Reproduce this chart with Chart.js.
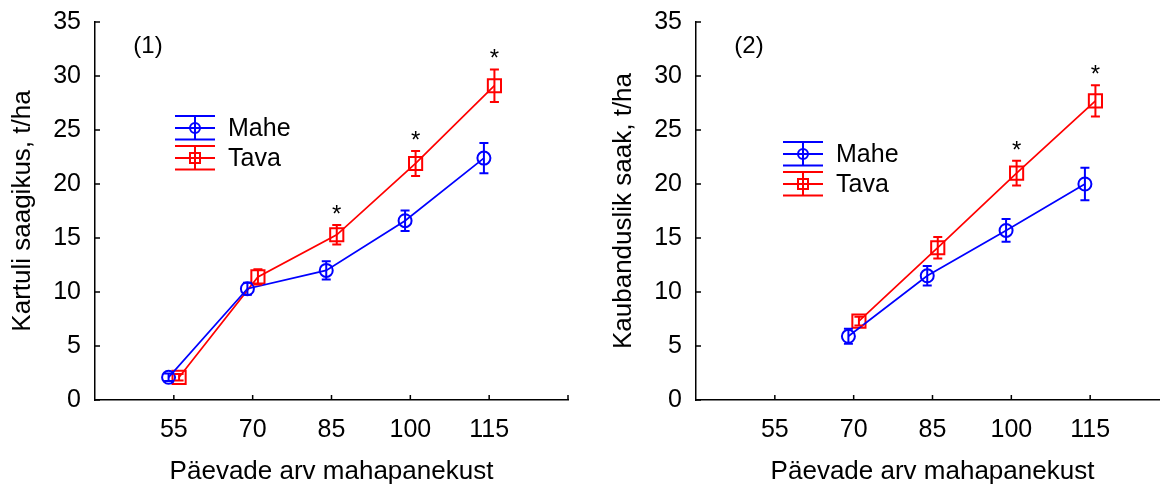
<!DOCTYPE html>
<html>
<head>
<meta charset="utf-8">
<script src="https://cdn.jsdelivr.net/npm/chart.js@4/dist/chart.umd.min.js"></script>
<style>
  html, body { margin: 0; padding: 0; background: #fff; overflow: hidden; }
  #wrap { position: relative; width: 1160px; height: 487px; overflow: hidden; }
  .box { position: absolute; top: 0; width: 600px; height: 487px; }
</style>
</head>
<body>
<div id="wrap">
  <div class="box" style="left:0"><canvas id="chart1"></canvas></div>
  <div class="box" style="left:601px"><canvas id="chart2"></canvas></div>
</div>
<script>
// shared axis ticks
const xTicks = [55, 70, 85, 100, 115];
const yStep = 5;
const seriesNames = ['Mahe', 'Tava'];
const xTitle = 'Päevade arv mahapanekust';

// (1) Kartuli saagikus
const days1 = [55, 70, 85, 100, 115];
const mahe1 = [2.1, 10.3, 12.0, 16.6, 22.4];
const maheErr1 = [0.35, 0.55, 0.85, 0.95, 1.4];
const tava1 = [2.1, 11.4, 15.3, 21.9, 29.1];
const tavaErr1 = [0.3, 0.7, 0.9, 1.15, 1.5];
const signif1 = [false, false, true, true, true];

// (2) Kaubanduslik saak
const days2 = [70, 85, 100, 115];
const mahe2 = [5.9, 11.5, 15.7, 20.0];
const maheErr2 = [0.7, 0.9, 1.05, 1.5];
const tava2 = [7.3, 14.1, 21.0, 27.7];
const tavaErr2 = [0.4, 1.0, 1.15, 1.45];
const signif2 = [false, false, true, true];

const FONT = '"Liberation Sans", Arial, sans-serif';
Chart.defaults.font.family = FONT;
Chart.defaults.color = '#000';

// error bars, inward ticks, asterisks, legend and panel tag
const extras = {
    id: 'extras',
    afterDatasetsDraw(chart, args, opts) {
        const { ctx, chartArea: a } = chart;
        const x = chart.scales.x, y = chart.scales.y;
        ctx.save();

        // tick marks pointing into the plot
        ctx.strokeStyle = '#000';
        ctx.lineWidth = 1.5;
        ctx.beginPath();
        for (let v = y.min; v <= y.max; v += yStep) {
            const py = y.getPixelForValue(v);
            ctx.moveTo(a.left, py);
            ctx.lineTo(a.left + 5, py);
        }
        [...xTicks, x.max].forEach(v => {
            const px = x.getPixelForValue(v);
            ctx.moveTo(px, a.bottom);
            ctx.lineTo(px, a.bottom - 5);
        });
        ctx.stroke();

        // error bars
        chart.data.datasets.forEach(ds => {
            ctx.strokeStyle = ds.borderColor;
            ctx.lineWidth = 2;
            ctx.beginPath();
            ds.data.forEach((p, i) => {
                const px = x.getPixelForValue(p.x);
                const t = y.getPixelForValue(p.y + ds.errors[i]);
                const b = y.getPixelForValue(p.y - ds.errors[i]);
                ctx.moveTo(px, t); ctx.lineTo(px, b);
                ctx.moveTo(px - 4.5, t); ctx.lineTo(px + 4.5, t);
                ctx.moveTo(px - 4.5, b); ctx.lineTo(px + 4.5, b);
            });
            ctx.stroke();
        });

        // significance stars above the Tava bars
        const tv = chart.data.datasets[1];
        ctx.fillStyle = '#000';
        ctx.font = opts.starSize + 'px ' + FONT;
        ctx.textAlign = 'center';
        ctx.textBaseline = 'alphabetic';
        opts.signif.forEach((s, i) => {
            if (!s) return;
            const p = tv.data[i];
            const px = x.getPixelForValue(p.x);
            const py = y.getPixelForValue(p.y + tv.errors[i]) - 17;
            ctx.fillText('*', px, py + 0.58 * opts.starSize);
        });

        // panel tag (1) / (2)
        ctx.font = opts.tagSize + 'px ' + FONT;
        ctx.textBaseline = 'middle';
        ctx.fillText(opts.tag, opts.tagX, opts.tagY);

        // legend with error-bar symbols
        ctx.textAlign = 'left';
        ctx.font = opts.legSize + 'px ' + FONT;
        chart.data.datasets.forEach((ds, i) => {
            const x0 = opts.legX, w = 40, cx = x0 + w / 2;
            const cy = opts.legY + i * 30;
            ctx.strokeStyle = ds.borderColor;
            ctx.lineWidth = 2;
            ctx.beginPath();
            [-12, 0, 11.5].forEach(d => { ctx.moveTo(x0, cy + d); ctx.lineTo(x0 + w, cy + d); });
            ctx.moveTo(cx, cy - 12); ctx.lineTo(cx, cy + 11.5);
            ctx.stroke();
            ctx.beginPath();
            if (ds.pointStyle === 'circle') ctx.arc(cx, cy, 5, 0, Math.PI * 2);
            else ctx.rect(cx - 5, cy - 5, 10, 10);
            ctx.stroke();
            ctx.fillStyle = '#000';
            ctx.fillText(ds.label, x0 + 53, cy + 1);
        });

        ctx.restore();
    }
};

function points(days, vals, dodge) {
    return days.map((d, i) => ({ x: d + dodge, y: vals[i] }));
}

function makeChart(id, days, mahe, maheErr, tava, tavaErr, signif, yTitle, tag, legX, legY) {
    const ctx = document.getElementById(id).getContext('2d');
    return new Chart(ctx, {
        type: 'scatter',
        data: {
            datasets: [{
                label: seriesNames[0],
                data: points(days, mahe, -1),
                errors: maheErr,
                showLine: true,
                borderColor: '#0000ff',
                borderWidth: 1.7,
                pointStyle: 'circle',
                pointRadius: 6.5,
                pointBorderWidth: 2,
                pointBackgroundColor: 'rgba(0,0,0,0)',
                pointBorderColor: '#0000ff'
            }, {
                label: seriesNames[1],
                data: points(days, tava, 1),
                errors: tavaErr,
                showLine: true,
                borderColor: '#ff0000',
                borderWidth: 1.7,
                pointStyle: 'rect',
                pointRadius: 9.3,
                pointBorderWidth: 2,
                pointBackgroundColor: 'rgba(0,0,0,0)',
                pointBorderColor: '#ff0000'
            }]
        },
        options: {
            responsive: true,
            maintainAspectRatio: false,
            animation: false,
            devicePixelRatio: 1,
            layout: { padding: { left: 0, top: 22, right: 32, bottom: 0 } },
            plugins: {
                legend: { display: false },
                tooltip: { enabled: false },
                extras: {
                    signif: signif, tag: tag, tagX: 148, tagY: 46,
                    tagSize: 24, legSize: 25, starSize: 24,
                    legX: legX, legY: legY
                }
            },
            scales: {
                x: {
                    type: 'linear',
                    min: 40,
                    max: 130,
                    afterBuildTicks: s => { s.ticks = xTicks.map(v => ({ value: v })); },
                    afterFit: s => { s.height = 87; s.paddingLeft = 0; s.paddingRight = 0; },
                    grid: { display: false, drawTicks: false },
                    border: { display: true, color: '#000', width: 1.5 },
                    ticks: { font: { size: 25 }, padding: 15, maxRotation: 0 },
                    title: { display: true, text: xTitle, font: { size: 26 }, padding: { top: 0, bottom: 0 } }
                },
                y: {
                    min: 0,
                    max: 35,
                    afterFit: s => { s.width = 95; s.paddingTop = 0; s.paddingBottom = 0; },
                    grid: { display: false, drawTicks: false },
                    border: { display: true, color: '#000', width: 1.5 },
                    ticks: { stepSize: yStep, font: { size: 25 }, padding: 14 },
                    title: { display: true, text: yTitle, font: { size: 26 }, padding: { top: 7, bottom: 0 } }
                }
            }
        },
        plugins: [extras]
    });
}

makeChart('chart1', days1, mahe1, maheErr1, tava1, tavaErr1, signif1,
    'Kartuli saagikus, t/ha', '(1)', 175, 128);
makeChart('chart2', days2, mahe2, maheErr2, tava2, tavaErr2, signif2,
    'Kaubanduslik saak, t/ha', '(2)', 182, 154);
</script>
</body>
</html>
